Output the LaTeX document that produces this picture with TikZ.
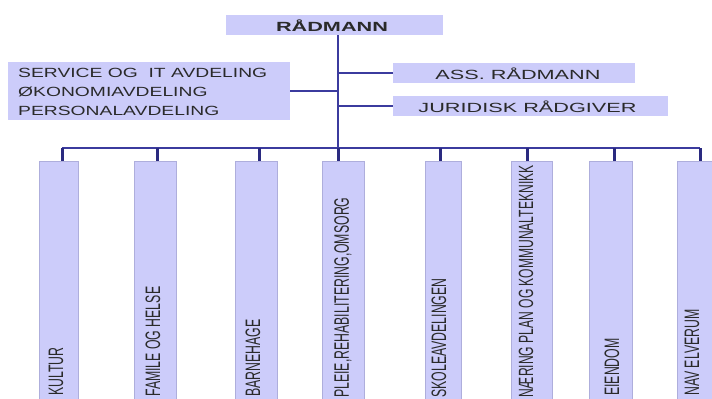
\documentclass[tikz,border=0pt]{standalone}
\usepackage{fontspec}
\setmainfont{Liberation Sans}
\definecolor{boxfill}{HTML}{CCCCFA}
\definecolor{boxline}{HTML}{AEAEDC}
\definecolor{connc}{HTML}{3B3B9E}
\definecolor{dropc}{HTML}{2A2A80}
\definecolor{txt}{HTML}{2A2A2A}
\begin{document}
\begin{tikzpicture}[x=1bp,y=-1bp,
  box/.style={draw=boxline, line width=0.5bp, fill=boxfill, inner sep=0pt, rectangle},
  topbox/.style={fill=boxfill, inner sep=0pt, rectangle},
  hlab/.style={inner sep=0pt, text=txt, font=\fontsize{13.3bp}{15bp}\selectfont},
  vlab/.style={inner sep=0pt, rotate=90, anchor=west, text=txt, font=\fontsize{12.3bp}{14bp}\selectfont},
  connline/.style={draw=connc, line width=1.6bp},
  dropline/.style={draw=dropc, line width=3bp}]
\useasboundingbox (0,0) rectangle (712,398);
\clip (0,0) rectangle (712,398);
\fill[white] (0,0) rectangle (712,398);

% top boxes
\node[topbox, minimum width=217bp, minimum height=20bp] (rad) at (334.5,25) {};
\node[hlab, font=\fontsize{13.3bp}{15bp}\selectfont\bfseries] (radt) at (332,25.5) {\scalebox{1.63}[1]{RÅDMANN}};

\node[topbox, minimum width=282bp, minimum height=58bp] (left) at (149,91) {};
\node[hlab, anchor=west] (l1) at (18,73) {\scalebox{1.45}[1]{SERVICE OG\ \ IT AVDELING}};
\node[hlab, anchor=west] (l2) at (18,92) {\scalebox{1.45}[1]{ØKONOMIAVDELING}};
\node[hlab, anchor=west] (l3) at (18,111) {\scalebox{1.45}[1]{PERSONALAVDELING}};

\node[topbox, minimum width=242bp, minimum height=20bp] (ass) at (514,73) {};
\node[hlab] (asst) at (518,74) {\scalebox{1.63}[1]{ASS. RÅDMANN}};
\node[topbox, minimum width=275bp, minimum height=20bp] (jur) at (530.5,106) {};
\node[hlab] (jurt) at (527.5,106.5) {\scalebox{1.63}[1]{JURIDISK RÅDGIVER}};

% bottom boxes
\node[box, anchor=north, minimum width=39bp, minimum height=260bp] (b1) at (58.5,161) {};
\node[box, anchor=north, minimum width=42bp, minimum height=260bp] (b2) at (155,161) {};
\node[box, anchor=north, minimum width=42bp, minimum height=260bp] (b3) at (256,161) {};
\node[box, anchor=north, minimum width=42bp, minimum height=260bp] (b4) at (343,161) {};
\node[box, anchor=north, minimum width=36bp, minimum height=260bp] (b5) at (443,161) {};
\node[box, anchor=north, minimum width=41bp, minimum height=260bp] (b6) at (531.5,161) {};
\node[box, anchor=north, minimum width=43bp, minimum height=260bp] (b7) at (610.5,161) {};
\node[box, anchor=north, minimum width=42bp, minimum height=260bp] (b8) at (698,161) {};

\node[vlab] (t1) at (56,396) {\scalebox{1}[1.7]{KULTUR}};
\node[vlab] (t2) at (153,397) {\scalebox{1}[1.7]{FAMILE OG HELSE}};
\node[vlab] (t3) at (253,397) {\scalebox{1}[1.7]{BARNEHAGE}};
\node[vlab] (t4) at (343,398) {\scalebox{1}[1.7]{PLEIE,REHABILITERING,OMSORG}};
\node[vlab] (t5) at (439,398) {\scalebox{1}[1.7]{SKOLEAVDELINGEN}};
\node[vlab, font=\fontsize{12.1bp}{14bp}\selectfont] (t6) at (526,398) {\scalebox{1}[1.7]{NÆRING PLAN OG KOMMUNALTEKNIKK}};
\node[vlab] (t7) at (612,396) {\scalebox{1}[1.7]{EIENDOM}};
\node[vlab] (t8) at (692,396) {\scalebox{1}[1.7]{NAV ELVERUM}};

% connectors
\coordinate (sp) at (338,148);
\coordinate (d1) at (62,148);
\coordinate (d2) at (157,148);
\coordinate (d3) at (259,148);
\coordinate (d4) at (338,148);
\coordinate (d5) at (440,148);
\coordinate (d6) at (527,148);
\coordinate (d7) at (614,148);
\coordinate (d8) at (700,148);

\draw[connline] (rad.south -| sp) -- (sp);
\draw[connline] (left.east) -- (left.east -| sp);
\draw[connline] (ass.west) -- (ass.west -| sp);
\draw[connline] (jur.west) -- (jur.west -| sp);
\draw[connline] (d1) -- (d8);
\foreach \i in {1,...,8} {
  \draw[dropline] (d\i) -- (d\i |- b\i.north);
}
\end{tikzpicture}
\end{document}
